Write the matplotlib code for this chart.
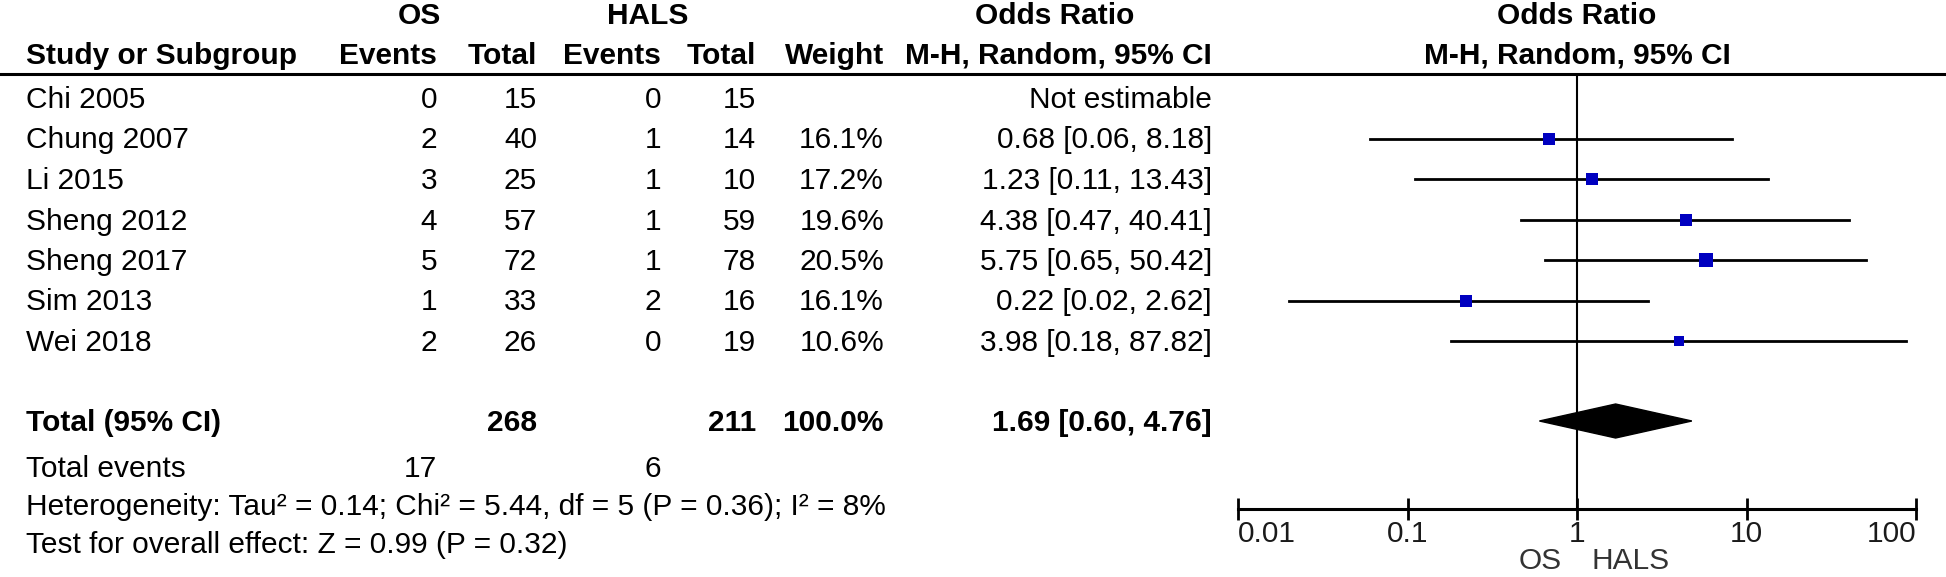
import matplotlib.pyplot as plt
import numpy as np

plt.rcParams['font.family'] = ['Liberation Sans', 'DejaVu Sans']

# study data
studies = ["Chi 2005", "Chung 2007", "Li 2015", "Sheng 2012", "Sheng 2017", "Sim 2013", "Wei 2018"]
os_events = [0, 2, 3, 4, 5, 1, 2]
os_total = [15, 40, 25, 57, 72, 33, 26]
hals_events = [0, 1, 1, 1, 1, 2, 0]
hals_total = [15, 14, 10, 59, 78, 16, 19]
weights = [None, 16.1, 17.2, 19.6, 20.5, 16.1, 10.6]
odds = [None, 0.68, 1.23, 4.38, 5.75, 0.22, 3.98]
ci_low = [None, 0.06, 0.11, 0.47, 0.65, 0.02, 0.18]
ci_high = [None, 8.18, 13.43, 40.41, 50.42, 2.62, 87.82]

total_os, total_hals = 268, 211
events_os, events_hals = 17, 6
total_or, total_low, total_high = 1.69, 0.60, 4.76
ticks = [0.01, 0.1, 1, 10, 100]
tick_labels = ["0.01", "0.1", "1", "10", "100"]
het_text = "Heterogeneity: Tau\u00b2 = 0.14; Chi\u00b2 = 5.44, df = 5 (P = 0.36); I\u00b2 = 8%"
effect_text = "Test for overall effect: Z = 0.99 (P = 0.32)"

W, H = 1946, 577
fig = plt.figure(figsize=(W / 100, H / 100), dpi=100)
ax = fig.add_axes([0, 0, 1, 1])
ax.set_xlim(0, W)
ax.set_ylim(H, 0)
ax.axis("off")

fs = 21.5
half_cap = 10  # baseline sits this far below the middle of the capitals
row0, step = 98, 40.5
rows = [row0 + i * step for i in range(len(studies))]
y_total, y_events, y_het, y_eff = 421, 467, 505, 543
y_h1, y_h2, y_line = 14, 54, 74
x_left = 26

# column right edges
c_ev1, c_tot1, c_ev2, c_tot2, c_w, c_ci = 437, 537, 661, 756, 884, 1212

def txt(x, y, s, ha="right", bold=False, color="black"):
    ax.text(x, y + half_cap, s, ha=ha, va="baseline", fontsize=fs,
            fontweight="bold" if bold else "normal", color=color)

# headers
txt(419, y_h1, "OS", "center", True)
txt(648, y_h1, "HALS", "center", True)
txt(1055, y_h1, "Odds Ratio", "center", True)
txt(1577, y_h1, "Odds Ratio", "center", True)
txt(x_left, y_h2, "Study or Subgroup", "left", True)
for x, s in [(c_ev1, "Events"), (c_tot1, "Total"), (c_ev2, "Events"),
             (c_tot2, "Total"), (c_w, "Weight"), (c_ci, "M-H, Random, 95% CI")]:
    txt(x, y_h2, s, "right", True)
txt(1577, y_h2, "M-H, Random, 95% CI", "center", True)
ax.plot([0, W], [y_line, y_line], color="black", lw=2.2)

# study rows
for i, y in enumerate(rows):
    txt(x_left, y, studies[i], "left")
    txt(c_ev1, y, str(os_events[i]))
    txt(c_tot1, y, str(os_total[i]))
    txt(c_ev2, y, str(hals_events[i]))
    txt(c_tot2, y, str(hals_total[i]))
    if odds[i] is None:
        txt(c_ci, y, "Not estimable")
    else:
        txt(c_w, y, f"{weights[i]:.1f}%")
        txt(c_ci, y, f"{odds[i]:.2f} [{ci_low[i]:.2f}, {ci_high[i]:.2f}]")

# totals
txt(x_left, y_total, "Total (95% CI)", "left", True)
txt(c_tot1, y_total, str(total_os), bold=True)
txt(c_tot2, y_total, str(total_hals), bold=True)
txt(c_w, y_total, "100.0%", bold=True)
txt(c_ci, y_total, f"{total_or:.2f} [{total_low:.2f}, {total_high:.2f}]", bold=True)
txt(x_left, y_events, "Total events", "left")
txt(c_ev1, y_events, str(events_os))
txt(c_ev2, y_events, str(events_hals))
txt(x_left, y_het, het_text, "left")
txt(x_left, y_eff, effect_text, "left")

# forest plot
x0, x1, y_axis = 1238, 1916, 509
fx = fig.add_axes([x0 / W, (H - y_axis) / H, (x1 - x0) / W, (y_axis - y_line) / H])
fx.set_xscale("log")
fx.set_xlim(0.01, 100)
fx.set_ylim(y_axis, y_line)
fx.patch.set_alpha(0)
for s in ["top", "left", "right"]:
    fx.spines[s].set_visible(False)
fx.spines["bottom"].set_linewidth(2.2)
fx.set_yticks([])
fx.set_xticks(ticks)
fx.set_xticklabels(tick_labels)
fx.minorticks_off()
fx.tick_params(axis="x", direction="inout", length=16, width=2, labelsize=fs,
               pad=0, labelcolor="#1a1a1a")
labels = fx.get_xticklabels()
labels[0].set_horizontalalignment("left")
labels[-1].set_horizontalalignment("right")
fx.axvline(1, color="black", lw=1.5)

for i, y in enumerate(rows):
    if odds[i] is None:
        continue
    fx.plot([ci_low[i], ci_high[i]], [y, y], color="black", lw=2)
    fx.plot(odds[i], y, marker="s", color="#0000c0", markersize=2.1 * np.sqrt(weights[i]),
            markeredgewidth=0)

fx.fill([total_low, total_or, total_high, total_or],
        [y_total, y_total - 17, y_total, y_total + 17], color="black")

txt(1562, 559, "OS", "right", color="#333333")
txt(1592, 559, "HALS", "left", color="#333333")

fig.savefig("out.png", dpi=100)
